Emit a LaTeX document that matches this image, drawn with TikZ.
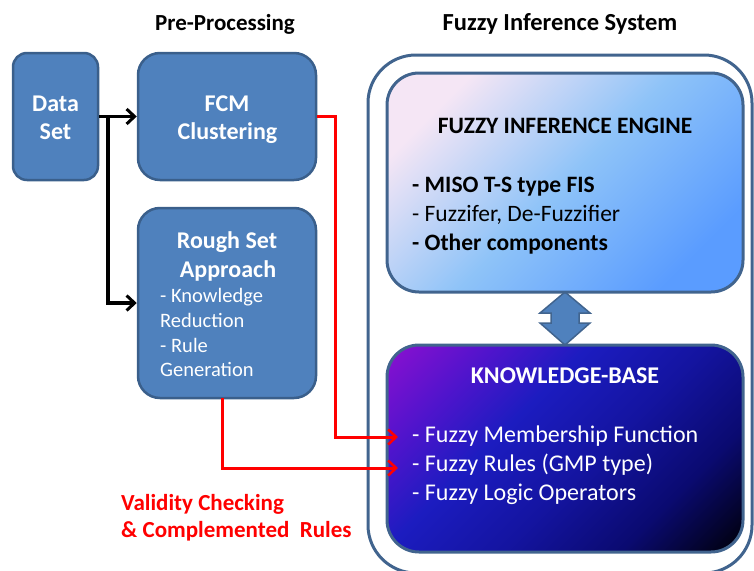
\documentclass[tikz,border=0pt]{standalone}
\usepackage{fontspec}
\setmainfont{Carlito}
\usetikzlibrary{arrows.meta}

\definecolor{boxblue}{HTML}{4F81BD}
\definecolor{boxedge}{HTML}{3A5F8B}
\definecolor{frameedge}{HTML}{41648E}
\definecolor{fieA}{HTML}{F5E6F5}
\definecolor{fieB}{HTML}{8EC3F8}
\definecolor{fieC}{HTML}{5A9CFF}
\definecolor{alertred}{HTML}{FF0000}

% diagonal colour ramp for the knowledge base panel
\pgfdeclarehorizontalshading{kbramp}{100bp}{
  color(0bp)=(rgb,255:red,138;green,16;blue,208);
  color(15bp)=(rgb,255:red,138;green,16;blue,208);
  color(28bp)=(rgb,255:red,80;green,20;blue,204);
  color(40bp)=(rgb,255:red,28;green,28;blue,192);
  color(55bp)=(rgb,255:red,20;green,20;blue,160);
  color(70bp)=(rgb,255:red,10;green,10;blue,112);
  color(85bp)=(rgb,255:red,0;green,0;blue,8);
  color(100bp)=(rgb,255:red,0;green,0;blue,8)}

\begin{document}
\begin{tikzpicture}[x=1pt,y=-1pt,
  procbox/.style={draw=boxedge, fill=boxblue, line width=2.5pt, inner sep=0pt},
  panel/.style={draw=frameedge, line width=3pt, inner sep=0pt, rounded corners=32pt},
  boxtitle/.style={text=white, font=\fontsize{24}{28}\selectfont\bfseries, anchor=base, inner sep=0pt},
  boxitem/.style={text=white, font=\fontsize{20.5}{25}\selectfont, anchor=base west, inner sep=0pt},
  headline/.style={font=\fontsize{23}{27}\selectfont\bfseries, anchor=base, inner sep=0pt},
  fietext/.style={font=\fontsize{23.5}{28}\selectfont, anchor=base west, inner sep=0pt},
  fiebold/.style={font=\fontsize{23.5}{28}\selectfont\bfseries, anchor=base west, inner sep=0pt},
  kbtext/.style={text=white, font=\fontsize{24}{28}\selectfont, anchor=base west, inner sep=0pt},
  notetext/.style={text=alertred, font=\fontsize{23}{27}\selectfont\bfseries, anchor=base west, inner sep=0pt},
  flow/.style={line width=3.5pt, -{Straight Barb[length=8pt,width=15pt,line width=3pt]}},
  feed/.style={draw=alertred, line width=3pt, -{Straight Barb[length=8pt,width=15pt,line width=2.5pt]}},
  bigarrow/.style={draw=frameedge, fill=boxblue, line width=1.5pt, line join=miter}
]
\useasboundingbox (0,0) rectangle (754,570);
\clip (0,0) rectangle (754,570);

% column headings
\node[headline] (hpre) at (225,30) {Pre-Processing};
\node[headline, font=\fontsize{24.5}{28}\selectfont\bfseries] (hfis) at (560,30) {Fuzzy Inference System};

% frame around the inference system
\node[draw=frameedge, line width=3pt, rounded corners=48pt, inner sep=0pt,
      minimum width=384pt, minimum height=518pt] (fis) at (560,314) {};

% pre-processing blocks
\node[procbox, rounded corners=14pt, minimum width=85pt, minimum height=127pt] (data) at (55.5,116.5) {};
\node[boxtitle] (dataA) at (55.5,111) {Data};
\node[boxtitle] (dataB) at (55.5,139) {Set};

\node[procbox, rounded corners=22pt, minimum width=178pt, minimum height=127pt] (fcm) at (227,116.5) {};
\node[boxtitle] (fcmA) at (227,111) {FCM};
\node[boxtitle] (fcmB) at (227.5,139) {Clustering};

\node[procbox, rounded corners=22pt, minimum width=178pt, minimum height=190pt] (rough) at (227,303) {};
\node[boxtitle] (roughA) at (227,248) {Rough Set};
\node[boxtitle] (roughB) at (228,277) {Approach};
\node[boxitem] (roughC) at (160,302) {- Knowledge};
\node[boxitem] (roughD) at (160,327) {Reduction};
\node[boxitem] (roughE) at (160,352) {- Rule};
\node[boxitem] (roughF) at (160,376) {Generation};

% link between engine and knowledge base
\coordinate (fieS) at (565,292);
\coordinate (kbN) at (565,345);
\draw[bigarrow] (fieS) -- ++(25,21) -- ++(-11,0) -- ++(0,10) -- ++(11,0) -- (kbN)
  -- ++(-25,-22) -- ++(11,0) -- ++(0,-10) -- ++(-11,0) -- cycle;

% fuzzy inference engine
\node[panel, minimum width=356pt, minimum height=219pt,
      shade, bottom color=fieA, top color=fieC, middle color=fieB, shading angle=225] (fie) at (565,182.5) {};
\node[font=\fontsize{23.5}{28}\selectfont\bfseries, anchor=base, inner sep=0pt] (fieT) at (565,133) {FUZZY INFERENCE ENGINE};
\node[fiebold] (fieA1) at (412,192) {- MISO T-S type FIS};
\node[fietext] (fieA2) at (412,221) {- Fuzzifer, De-Fuzzifier};
\node[fiebold] (fieA3) at (412,250) {- Other components};

% knowledge base
\node[panel, minimum width=356pt, minimum height=207pt,
      shade, shading=kbramp, shading angle=-45] (kb) at (565,448.5) {};
\node[text=white, font=\fontsize{24}{28}\selectfont\bfseries, anchor=base, inner sep=0pt] (kbT) at (565,383) {KNOWLEDGE-BASE};
\node[kbtext] (kb1) at (412,442) {- Fuzzy Membership Function};
\node[kbtext] (kb2) at (412,471) {- Fuzzy Rules (GMP type)};
\node[kbtext] (kb3) at (412,500) {- Fuzzy Logic Operators};

% data flow
\coordinate (split) at (108,116.5);
\draw[flow] (data.east) -- (fcm.west);
\draw[flow] (split) |- (rough.west);

% feeds into the knowledge base
\coordinate (kbin1) at (398,437);
\coordinate (kbin2) at (398,468);
\coordinate (roughOut) at (222,398);
\draw[feed] (fcm.east) -- (335,116.5) |- (kbin1);
\draw[feed] (roughOut) |- (kbin2);

\node[notetext] (noteA) at (121,510) {Validity Checking};
\node[notetext] (noteB) at (121,537) {\&~Complemented~~Rules};
\end{tikzpicture}
\end{document}
